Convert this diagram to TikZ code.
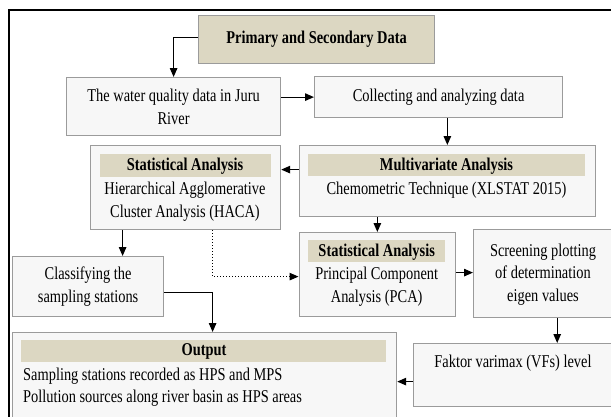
\documentclass[tikz,border=0pt]{standalone}
\usepackage{fontspec}
\setmainfont{Liberation Serif}[FakeStretch=0.8]
\usetikzlibrary{arrows.meta}
\definecolor{tanband}{RGB}{220,215,194}
\definecolor{boxfill}{RGB}{247,247,247}
\definecolor{boxline}{RGB}{155,155,155}
\begin{document}
\begin{tikzpicture}[x=1pt,y=-1pt,
  txt/.style={font=\fontsize{18}{22.5}\selectfont, align=center, inner sep=0pt},
  btxt/.style={font=\fontsize{18}{22.5}\selectfont\bfseries, align=center, inner sep=0pt},
  box/.style={draw=boxline, fill=boxfill, line width=1.2pt, inner sep=0pt, anchor=north west, txt},
  band/.style={fill=tanband, draw=none, inner sep=0pt, anchor=north west},
  arr/.style={line width=1.2pt, -{Triangle[length=9pt,width=7.5pt]}},
  dotarr/.style={line width=1pt, dotted, -{Triangle[length=9pt,width=7.5pt]}},
]
\useasboundingbox (0,0) rectangle (611,416);
\clip (0,0) rectangle (611,416);
\fill[white] (0,0) rectangle (611,416);
% outer frame
\draw[line width=1.5pt] (9,430) -- (9,10) -- (630,10);

% boxes
\node[box, fill=tanband, minimum width=236pt, minimum height=48pt, btxt] (prim) at (198,15) {Primary and Secondary Data};
\node[box, minimum width=214pt, minimum height=58pt] (water) at (66,77) {The water quality data in Juru\\River};
\node[box, minimum width=248pt, minimum height=41pt] (coll) at (314,76) {Collecting and analyzing data};

\node[box, minimum width=190pt, minimum height=84pt] (hac) at (90,145) {};
\node[band, minimum width=171.5pt, minimum height=23pt] (hacb) at (99.5,154) {};
\node[btxt] (hact1) at (185,166) {Statistical Analysis};
\node[txt] (hact2) at (185,201.5) {Hierarchical Agglomerative\\Cluster Analysis (HACA)};

\node[box, minimum width=296.5pt, minimum height=71pt] (mult) at (298.5,145) {};
\node[band, minimum width=277.5pt, minimum height=22pt] (multb) at (307.5,154) {};
\node[btxt] (multt1) at (446.5,166) {Multivariate Analysis};
\node[txt] (multt2) at (446.5,190) {Chemometric Technique (XLSTAT 2015)};

\node[box, minimum width=156.5pt, minimum height=84pt] (pca) at (298.5,232) {};
\node[band, minimum width=137pt, minimum height=22pt] (pcab) at (308,240) {};
\node[btxt] (pcat1) at (376.7,252) {Statistical Analysis};
\node[txt] (pcat2) at (376.7,286.5) {Principal Component\\Analysis (PCA)};

\node[box, minimum width=145pt, minimum height=88pt] (scr) at (473,229) {};
\node[txt] (scrt) at (543,274.5) {Screening plotting\\of determination\\eigen values};

\node[box, minimum width=205pt, minimum height=63pt] (fak) at (413,343) {};
\node[txt] (fakt) at (513,363) {Faktor varimax (VFs) level};

\node[box, minimum width=151pt, minimum height=60pt] (cls) at (12,256) {Classifying the\\sampling stations};

\node[box, minimum width=384pt, minimum height=100pt] (out) at (12,332) {};
\node[band, minimum width=365pt, minimum height=22pt] (outb) at (21,340) {};
\node[btxt] (outt1) at (204,351) {Output};
\node[txt, align=left, anchor=west] (outt2) at (23,387) {Sampling stations recorded as HPS and MPS\\Pollution sources along river basin as HPS areas};

% connectors
\draw[arr] ([yshift=2pt]prim.west) -| (water.north);
\draw[arr] (coll.west -| water.east) -- (coll.west);
\draw[arr] (coll.south -| mult.north) -- (mult.north);
\draw[arr] ([yshift=11.5pt]mult.west) -- ([yshift=11.5pt]mult.west -| hac.east);
\draw[arr] (mult.south -| pca.north) -- (pca.north);
\draw[arr] ([yshift=1pt]scr.west -| pca.east) -- ([yshift=1pt]scr.west);
\draw[arr] ([xshift=-62pt]scr.south east) -- ([xshift=-62pt]scr.south east |- fak.north);
\draw[arr] ([yshift=-6.5pt]fak.west) -- ([yshift=-6.5pt]fak.west -| out.east);
\draw[arr] ([xshift=-63pt]hac.south) -- ([xshift=-63pt]hac.south |- cls.north);
\draw[arr] ([yshift=-6pt]cls.east) -| ([xshift=8pt]out.north);
\draw[dotarr] ([xshift=27pt]hac.south) |- ([yshift=-2pt]pca.west);
\end{tikzpicture}
\end{document}
